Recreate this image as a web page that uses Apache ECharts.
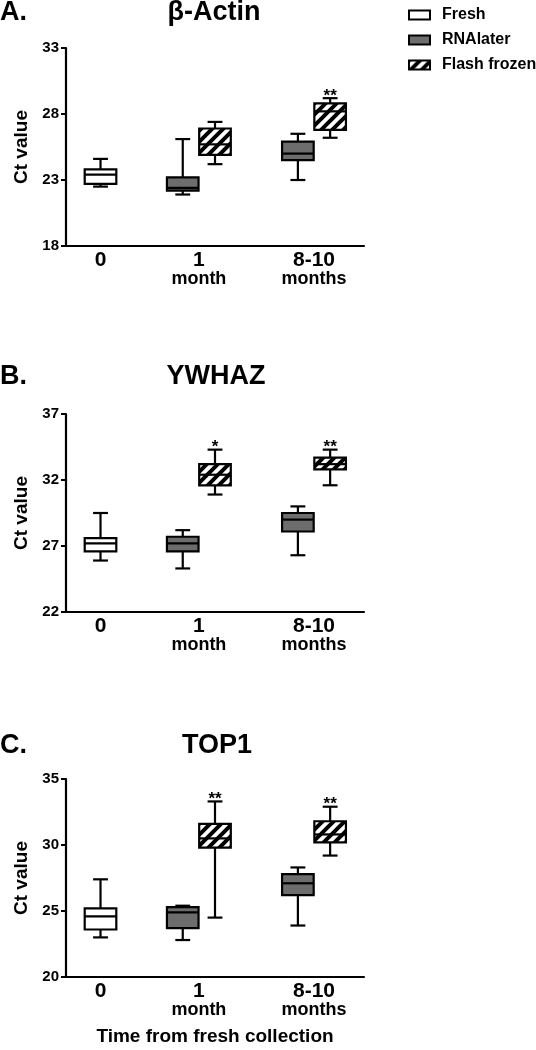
<!DOCTYPE html>
<html>
<head>
<meta charset="utf-8">
<script src="https://cdn.jsdelivr.net/npm/echarts@6.0.0/dist/echarts.min.js"></script>
<style>
  html, body { margin: 0; padding: 0; background: #fff; }
  #chart { width: 536px; height: 1050px; }
</style>
</head>
<body>
<div id="chart"></div>
<script>
// ---------------- DATA ----------------
const groupLabels = ['0', '1', '8-10'];
const groupSubLabels = ['', 'month', 'months'];
const seriesNames = ['Fresh', 'RNAlater', 'Flash frozen'];
const geneNames = ['β-Actin', 'YWHAZ', 'TOP1'];
const panelLetters = ['A.', 'B.', 'C.'];
const yAxisName = 'Ct value';
const xAxisName = 'Time from fresh collection';

// each box: [lower whisker, Q1, median, Q3, upper whisker]; null = no box in that group
const actinFresh    = [[22.5, 22.7, 23.4, 23.8, 24.6], null, null];
const actinRNAlater = [null, [21.9, 22.2, 22.4, 23.2, 26.1], [23.0, 24.5, 25.0, 25.9, 26.5]];
const actinFlash    = [null, [24.2, 24.9, 25.7, 26.9, 27.4], [26.2, 26.8, 28.2, 28.8, 29.2]];
const actinSig      = ['', '', '**'];
const actinTicks    = [18, 23, 28, 33];

const ywhazFresh    = [[25.9, 26.6, 27.2, 27.6, 29.5], null, null];
const ywhazRNAlater = [null, [25.3, 26.6, 27.2, 27.7, 28.2], [26.3, 28.1, 29.0, 29.5, 30.0]];
const ywhazFlash    = [null, [30.9, 31.6, 32.4, 33.2, 34.3], [31.6, 32.8, 33.2, 33.7, 34.3]];
const ywhazSig      = ['', '*', '**'];
const ywhazTicks    = [22, 27, 32, 37];

const top1Fresh     = [[23.0, 23.6, 24.6, 25.2, 27.4], null, null];
const top1RNAlater  = [null, [22.8, 23.7, 24.9, 25.3, 25.4], [23.9, 26.2, 27.1, 27.8, 28.3]];
const top1Flash     = [null, [24.5, 29.8, 30.5, 31.6, 33.3], [29.2, 30.2, 30.8, 31.8, 32.9]];
const top1Sig       = ['', '**', '**'];
const top1Ticks     = [20, 25, 30, 35];

// ---------------- LAYOUT / STYLE ----------------
const FONT = '"Liberation Sans", Arial, sans-serif';
const panels = [
  { fresh: actinFresh, rna: actinRNAlater, flash: actinFlash, sig: actinSig, ticks: actinTicks },
  { fresh: ywhazFresh, rna: ywhazRNAlater, flash: ywhazFlash, sig: ywhazSig, ticks: ywhazTicks },
  { fresh: top1Fresh,  rna: top1RNAlater,  flash: top1Flash,  sig: top1Sig,  ticks: top1Ticks }
];
const gridTops = [48, 414, 779];
const gridLeft = 66, gridWidth = 298, gridHeight = 198;
const titleY = [13, 377, 746];
const geneX = [214, 216, 217];
// x axis in "box slot" units
const xMax = 9.24;
const groupCenters = [1.07, 4.12, 7.69];
const seriesOffset = [0, -0.5, 0.5];
const boxWidth = 0.98;
const capRatio = 0.47;
const GRAY = '#6d6d6d';

function makeHatch() {
  const n = 11;
  const c = document.createElement('canvas');
  c.width = n; c.height = n;
  const ctx = c.getContext('2d');
  ctx.fillStyle = '#fff';
  ctx.fillRect(0, 0, n, n);
  ctx.strokeStyle = '#000';
  ctx.lineWidth = 4;
  ctx.beginPath();
  ctx.moveTo(-n / 2, n / 2); ctx.lineTo(n / 2, -n / 2);
  ctx.moveTo(0, n); ctx.lineTo(n, 0);
  ctx.moveTo(n / 2, n * 1.5); ctx.lineTo(n * 1.5, n / 2);
  ctx.stroke();
  return c;
}
const hatch = { image: makeHatch(), repeat: 'repeat' };
const fills = ['#ffffff', GRAY, hatch];

function makeRender(offset, fill, sig) {
  return function (params, api) {
    const g = api.value(0);
    const cx = groupCenters[g] + offset;
    const lowP = api.coord([cx, api.value(1)]);
    const q1P = api.coord([cx, api.value(2)]);
    const medP = api.coord([cx, api.value(3)]);
    const q3P = api.coord([cx, api.value(4)]);
    const highP = api.coord([cx, api.value(5)]);
    const bw = api.size([boxWidth, 0])[0];
    const cw = bw * capRatio;
    const x = lowP[0];
    const ls = { stroke: '#000', lineWidth: 2.2 };
    const children = [
      { type: 'line', shape: { x1: x, y1: lowP[1], x2: x, y2: highP[1] }, style: ls },
      { type: 'line', shape: { x1: x - cw / 2, y1: lowP[1], x2: x + cw / 2, y2: lowP[1] }, style: ls },
      { type: 'line', shape: { x1: x - cw / 2, y1: highP[1], x2: x + cw / 2, y2: highP[1] }, style: ls },
      { type: 'rect', shape: { x: x - bw / 2, y: q3P[1], width: bw, height: q1P[1] - q3P[1] },
        style: { fill: fill, stroke: '#000', lineWidth: 2.2 } },
      { type: 'line', shape: { x1: x - bw / 2, y1: medP[1], x2: x + bw / 2, y2: medP[1] }, style: ls }
    ];
    if (sig && sig[g]) {
      children.push({
        type: 'text', x: x, y: highP[1] - 2,
        style: { text: sig[g], align: 'center', verticalAlign: 'middle',
                 font: 'bold 17px ' + FONT, fill: '#000' }
      });
    }
    return { type: 'group', children: children };
  };
}

function toData(arr) {
  const out = [];
  arr.forEach(function (v, i) { if (v) out.push([i].concat(v)); });
  return out;
}

const grids = [], xAxes = [], yAxes = [], series = [], graphics = [];
panels.forEach(function (p, i) {
  grids.push({ left: gridLeft, top: gridTops[i], width: gridWidth, height: gridHeight });
  xAxes.push({
    type: 'value', gridIndex: i, min: 0, max: xMax,
    axisLine: { show: true, onZero: false, lineStyle: { color: '#000', width: 2.2 } },
    axisTick: { show: false },
    splitLine: { show: false },
    axisLabel: {
      customValues: groupCenters,
      margin: 5,
      formatter: function (v) {
        const k = groupCenters.indexOf(v);
        if (k < 0) return '';
        return groupSubLabels[k] ? '{a|' + groupLabels[k] + '}\n{b|' + groupSubLabels[k] + '}' : '{a|' + groupLabels[k] + '}';
      },
      rich: {
        a: { fontSize: 21, fontWeight: 'bold', lineHeight: 19, color: '#000', fontFamily: FONT },
        b: { fontSize: 18, fontWeight: 'bold', lineHeight: 18, color: '#000', fontFamily: FONT }
      }
    },
    name: i === 2 ? xAxisName : '',
    nameLocation: 'middle',
    nameGap: 50,
    nameTextStyle: { fontSize: 19, fontWeight: 'bold', color: '#000', fontFamily: FONT }
  });
  const t = p.ticks;
  yAxes.push({
    type: 'value', gridIndex: i, min: t[0], max: t[t.length - 1], interval: t[1] - t[0],
    axisLine: { show: true, lineStyle: { color: '#000', width: 2.2 } },
    axisTick: { show: true, length: 5, lineStyle: { color: '#000', width: 2 } },
    splitLine: { show: false },
    axisLabel: { fontSize: 15, fontWeight: 'bold', color: '#000', margin: 7, fontFamily: FONT },
    name: yAxisName, nameLocation: 'middle', nameGap: 27,
    nameTextStyle: { fontSize: 19, fontWeight: 'bold', color: '#000', fontFamily: FONT }
  });
  [p.fresh, p.rna, p.flash].forEach(function (arr, s) {
    series.push({
      type: 'custom', name: seriesNames[s], xAxisIndex: i, yAxisIndex: i,
      data: toData(arr),
      encode: { x: 0, y: [1, 2, 3, 4, 5] },
      renderItem: makeRender(seriesOffset[s], fills[s], s === 2 ? p.sig : null),
      itemStyle: { color: fills[s], borderColor: '#000', borderWidth: 2 },
      silent: true, animation: false, clip: false
    });
  });
  graphics.push({
    type: 'text', x: 0, y: titleY[i],
    style: { text: panelLetters[i], font: 'bold 27px ' + FONT, fill: '#000',
             align: 'left', verticalAlign: 'middle', textAlign: 'left', textVerticalAlign: 'middle' }
  });
  graphics.push({
    type: 'text', x: geneX[i], y: titleY[i],
    style: { text: geneNames[i], font: 'bold 27px ' + FONT, fill: '#000',
             align: 'center', verticalAlign: 'middle', textAlign: 'center', textVerticalAlign: 'middle' }
  });
});

const chart = echarts.init(document.getElementById('chart'), null, { renderer: 'canvas' });
chart.setOption({
  animation: false,
  backgroundColor: '#fff',
  textStyle: { fontFamily: FONT, color: '#000' },
  grid: grids,
  xAxis: xAxes,
  yAxis: yAxes,
  series: series,
  graphic: graphics,
  legend: {
    orient: 'vertical', left: 403, top: 2, padding: 5,
    itemWidth: 21, itemHeight: 9, itemGap: 9,
    icon: 'rect', selectedMode: false,
    data: [
      { name: 'Fresh', itemStyle: { color: '#fff', borderColor: '#000', borderWidth: 2 } },
      { name: 'RNAlater', itemStyle: { color: GRAY, borderColor: '#000', borderWidth: 2 } },
      { name: 'Flash frozen', itemStyle: { color: hatch, borderColor: '#000', borderWidth: 2 } }
    ],
    formatter: function (name) { return '{t|' + name + '}'; },
    textStyle: {
      fontSize: 16, fontWeight: 'bold', color: '#000', fontFamily: FONT,
      rich: { t: { fontSize: 16, fontWeight: 'bold', color: '#000', fontFamily: FONT, padding: [0, 0, 0, 7] } }
    }
  }
});
</script>
</body>
</html>
